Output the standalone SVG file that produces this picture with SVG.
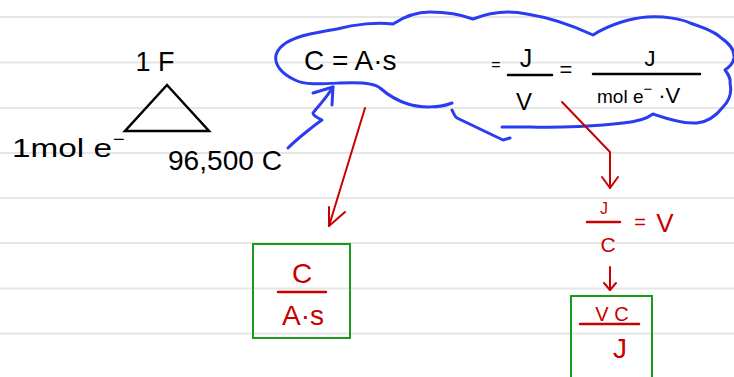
<svg xmlns="http://www.w3.org/2000/svg" width="734" height="377" viewBox="0 0 734 377">
<style>
.rule{stroke:#e6e6e6;stroke-width:2}
.hw{font-family:"Liberation Sans","DejaVu Sans",sans-serif;fill:#000}
.red{fill:#c80000}
.bar{stroke:#000;stroke-width:2.5;stroke-linecap:round}
.rbar{stroke:#c80000;stroke-width:2.5;stroke-linecap:round}
.blue{fill:none;stroke:#2a3cf0;stroke-width:3;stroke-linecap:round;stroke-linejoin:round}
.rline{fill:none;stroke:#c80000;stroke-width:2;stroke-linecap:round;stroke-linejoin:round}
.gbox{fill:none;stroke:#1a9a1a;stroke-width:2}
</style>
<rect width="734" height="377" fill="#fff"/>
<g id="ruling">
<line class="rule" x1="0" y1="17" x2="734" y2="17"/>
<line class="rule" x1="0" y1="62.5" x2="734" y2="62.5"/>
<line class="rule" x1="0" y1="108" x2="734" y2="108"/>
<line class="rule" x1="0" y1="153" x2="734" y2="153"/>
<line class="rule" x1="0" y1="198" x2="734" y2="198"/>
<line class="rule" x1="0" y1="243" x2="734" y2="243"/>
<line class="rule" x1="0" y1="288.5" x2="734" y2="288.5"/>
<line class="rule" x1="0" y1="333.5" x2="734" y2="333.5"/>
</g>
<g id="faraday">
<text class="hw" x="155" y="71" font-size="27" text-anchor="middle">1 F</text>
<polygon points="167,85 125,131 209,131" fill="none" stroke="#000" stroke-width="2.5" stroke-linejoin="miter"/>
<text class="hw" x="12" y="157" font-size="26" textLength="100" lengthAdjust="spacingAndGlyphs">1mol e</text>
<text class="hw" x="113" y="146" font-size="20">−</text>
<text class="hw" x="168" y="170" font-size="28" textLength="114" lengthAdjust="spacingAndGlyphs">96,500 C</text>
</g>
<g id="cloud">
<path class="blue" d="M 452,103 C 440,108 420,108 408,104 C 395,100 388,95 380,88 C 375,83 360,82 340,83 C 320,84 305,85 295,80 C 282,74 274,65 276,55 C 279,44 292,38 310,34 C 320,32 330,30 337,29 C 355,24 378,22 393,24 C 405,16 418,12 430,12 C 450,12 465,16 473,19 C 488,13 508,10 527,14 C 552,18 578,28 593,35 C 610,24 632,18 647,17 C 665,16 682,19 690,23 C 705,28 715,32 720,37 C 730,44 735,50 734,58 C 733,64 728,68 725,70 C 728,74 731,78 730,83 C 732,92 730,100 723,107 C 716,116 707,122 697,123 C 682,124 665,118 653,114 C 645,120 635,122 623,123 C 600,126 560,128 530,127 L 502,127"/>
<path class="blue" d="M 452,110 C 454,114 455,117 457,118 L 503,140 L 510,138"/>
<text class="hw" x="304" y="70" font-size="28">C = A·s</text>
<text class="hw" x="496" y="70" font-size="16" text-anchor="middle">=</text>
<text class="hw" x="526" y="67" font-size="25" text-anchor="middle">J</text>
<line class="bar" x1="508" y1="75" x2="552" y2="75"/>
<text class="hw" x="524" y="110" font-size="24" text-anchor="middle">V</text>
<text class="hw" x="566" y="77" font-size="22" text-anchor="middle">=</text>
<text class="hw" x="650" y="66" font-size="22" text-anchor="middle">J</text>
<line class="bar" x1="593" y1="74" x2="700" y2="74"/>
<text class="hw" x="597" y="103" font-size="19">mol e<tspan dy="-9" font-size="15">−</tspan><tspan dy="9" font-size="22" dx="6">·V</tspan></text>
</g>
<g id="connectors">
<path class="blue" d="M 288,148 C 298,138 316,124 322,120 C 318,118 313,116 313,113 C 318,106 325,100 333,87"/>
<path class="blue" d="M 313,93 L 333,87 L 332,105"/>
<path class="rline" d="M 365,108 L 329,226"/>
<path class="rline" d="M 329,207 L 329,226 L 345,212"/>
<path class="rline" d="M 562,102 L 610,152 L 610,188"/>
<path class="rline" d="M 602,177 L 610,188 L 618,177"/>
<path class="rline" d="M 610,267 L 610,290"/>
<path class="rline" d="M 604,283 L 610,290 L 616,283"/>
</g>
<g id="box-c-as">
<rect class="gbox" x="253" y="244" width="97" height="94"/>
<text class="hw red" x="302" y="283" font-size="28" text-anchor="middle">C</text>
<line class="rbar" x1="278" y1="292" x2="326" y2="292"/>
<text class="hw red" x="303" y="325" font-size="28" text-anchor="middle">A·s</text>
</g>
<g id="jc-v">
<text class="hw red" x="604" y="214" font-size="16" text-anchor="middle">J</text>
<line class="rbar" x1="587" y1="222" x2="620" y2="222"/>
<text class="hw red" x="608" y="252" font-size="21" text-anchor="middle">C</text>
<text class="hw red" x="640" y="229" font-size="20" text-anchor="middle">=</text>
<text class="hw red" x="665" y="232" font-size="26" text-anchor="middle">V</text>
</g>
<g id="box-vc-j">
<rect class="gbox" x="571" y="296" width="81" height="100"/>
<text class="hw red" x="612" y="321" font-size="20" text-anchor="middle">V C</text>
<line class="rbar" x1="580" y1="324" x2="639" y2="324"/>
<text class="hw red" x="620" y="358" font-size="28" text-anchor="middle">J</text>
</g>
</svg>
